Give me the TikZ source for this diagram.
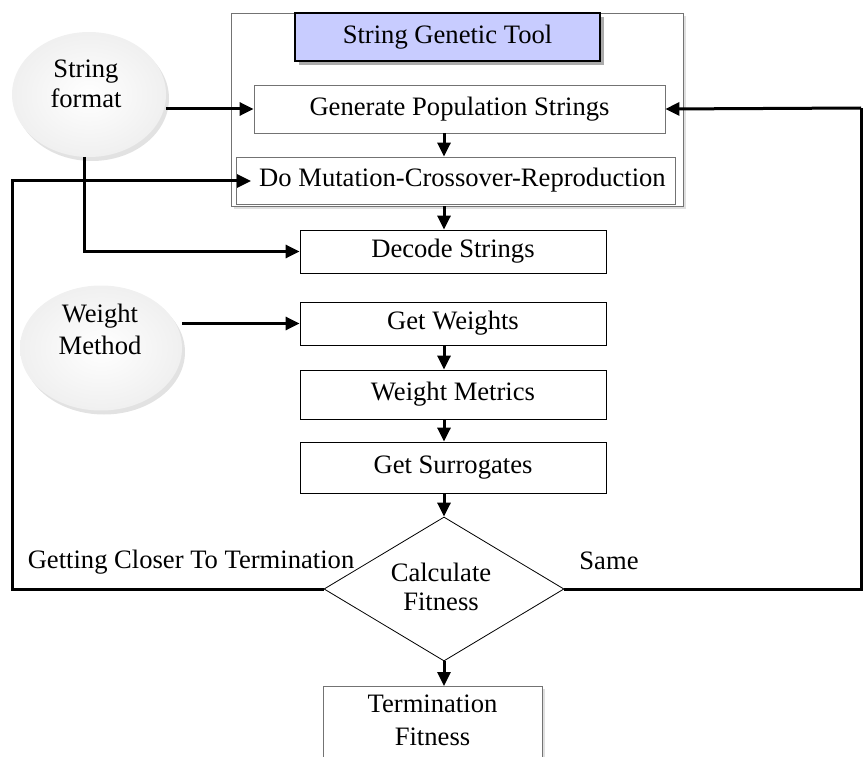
\documentclass[tikz,border=0pt]{standalone}
\usepackage{fontspec}
\setmainfont{Liberation Serif}
\usetikzlibrary{arrows.meta,shapes.geometric,shadows}
\definecolor{titleblue}{RGB}{200,204,255}
\begin{document}
\begin{tikzpicture}[x=1pt,y=-1pt,
  font=\fontsize{26.6}{31}\selectfont,
  graybox/.style={draw=black!55, line width=0.8pt, fill=white, inner sep=0pt, align=center},
  stepbox/.style={draw=black, line width=0.8pt, fill=white, inner sep=0pt, minimum width=306pt, align=center},
  oval/.style={ellipse, draw=none, shade, inner color=white, outer color=gray!12,
    drop shadow={shadow xshift=3pt, shadow yshift=-4pt, fill=gray!45}},
  txt/.style={align=center, inner sep=0pt},
  conn/.style={line width=3pt, -{Triangle[length=14pt,width=13pt]}},
  plain/.style={line width=3pt}]
\useasboundingbox (0,0) rectangle (863,757);

% container
\node[graybox, minimum width=452pt, minimum height=193pt, drop shadow={shadow xshift=3pt, shadow yshift=-3pt, fill=gray!50}] (cont) at (457,109.5) {};
\node[draw=black, line width=1.6pt, fill=titleblue, minimum width=305pt, minimum height=48pt, inner sep=0pt,
  drop shadow={shadow xshift=4pt, shadow yshift=-4pt, fill=black!65}] (title) at (447.5,37) {String Genetic Tool};
\node[graybox, minimum width=411pt, minimum height=48pt] (gen) at (459.5,109) {Generate Population Strings};
\node[graybox, minimum width=439pt, minimum height=47pt] (do) at (455.5,180.5) {\hspace*{14pt}Do Mutation-Crossover-Reproduction};

% steps
\node[stepbox, minimum height=43pt] (dec) at (453,251.5) {Decode Strings};
\node[stepbox, minimum height=43pt] (gw) at (453,323.5) {Get Weights};
\node[stepbox, minimum height=49pt] (wmet) at (453,394.5) {Weight Metrics};
\node[stepbox, minimum height=51pt] (sur) at (453,467.5) {Get Surrogates};
\node[diamond, draw=black, line width=0.8pt, fill=white, aspect=1.667, inner sep=0pt,
  minimum width=240pt, minimum height=144pt] (calc) at (444,589) {};
\node[txt, font=\fontsize{26.6}{28.5}\selectfont] (calctxt) at (441,587) {Calculate\\Fitness};
\node[graybox, minimum width=219pt, minimum height=80pt, anchor=north,
  drop shadow={shadow xshift=3pt, shadow yshift=-3pt, fill=gray!50}] (term) at (432.5,686) {};
\node[txt, font=\fontsize{26.6}{33}\selectfont] (termtxt) at (432.5,720) {Termination\\Fitness};

% ovals
\node[oval, minimum width=154pt, minimum height=125pt] (sf) at (89,94.5) {};
\node[txt, font=\fontsize{26.6}{30}\selectfont] (sftxt) at (86,84) {String\\format};
\node[oval, minimum width=162pt, minimum height=125pt] (wm) at (101,348) {};
\node[txt, font=\fontsize{26.6}{32}\selectfont] (wmtxt) at (100,329) {Weight\\Method};

% labels
\node (lclose) at (191,562) {Getting Closer To Termination};
\node (lsame) at (609,561) {Same};

% helper coordinates
\coordinate (sfb) at (84,157);
\coordinate (fbl) at (12,181);
\coordinate (doin) at (251,181);
\coordinate (fbr) at (861,108);

% connectors
\draw[conn] (sf.east |- gen.west) -- (gen.west);
\draw[conn] (fbr) -- (gen.east);
\draw[plain] (calc.east) -| (fbr);
\draw[conn] (calc.west) -| (fbl) -- (doin);
\draw[conn] (sfb) |- (dec.west);
\draw[conn] (wm.east |- gw.west) -- (gw.west);
\draw[conn] (gen.south -| calc) -- (do.north -| calc);
\draw[conn] (cont.south -| calc) -- (dec.north -| calc);
\draw[conn] (gw.south -| calc) -- (wmet.north -| calc);
\draw[conn] (wmet.south -| calc) -- (sur.north -| calc);
\draw[conn] (sur.south -| calc) -- (calc.north);
\draw[conn] (calc.south) -- (term.north -| calc);
\end{tikzpicture}
\end{document}
